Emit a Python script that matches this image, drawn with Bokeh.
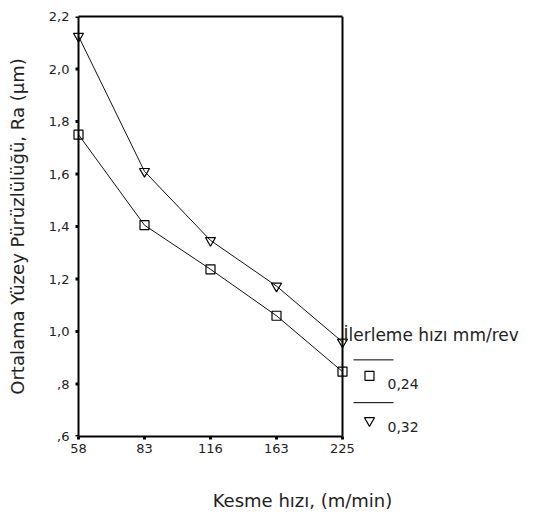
from bokeh.plotting import figure
from bokeh.models import Range1d, FixedTicker, LinearAxis, ColumnDataSource
from bokeh.core.properties import value
from bokeh.embed import file_html
from bokeh.resources import INLINE

# ---- data ----
speeds = ["58", "83", "116", "163", "225"]
ra_024 = [1.75, 1.405, 1.237, 1.06, 0.847]
ra_032 = [2.125, 1.61, 1.347, 1.173, 0.96]
y_ticks = [0.6, 0.8, 1.0, 1.2, 1.4, 1.6, 1.8, 2.0, 2.2]
y_tick_labels = [",6", ",8", "1,0", "1,2", "1,4", "1,6", "1,8", "2,0", "2,2"]
series_names = ["0,24", "0,32"]
legend_title = "İlerleme hızı mm/rev"
x_title = "Kesme hızı, (m/min)"
y_title = "Ortalama Yüzey Pürüzlülüğü, Ra (µm)"

FONT = "DejaVu Sans"
TXT = "#222222"

# ---- layout (pixels) ----
W, H = 534, 513
FRAME_L, FRAME_R, BOX_L, BOX_R = 70, 534, 78, 342
BOX_T, BOX_B = 16, 438

n = len(speeds)
x_idx = list(range(n))
ppu = (BOX_R - BOX_L) / (n - 1)
x_start = -(BOX_L - FRAME_L) / ppu
x_end = (n - 1) + (FRAME_R - BOX_R) / ppu

p = figure(width=W, height=H, output_backend="svg", toolbar_location=None,
           x_range=Range1d(x_start, x_end), y_range=Range1d(y_ticks[0], y_ticks[-1]),
           x_axis_location=None, y_axis_location=None,
           min_border_left=FRAME_L, min_border_right=W - FRAME_R,
           min_border_top=BOX_T, min_border_bottom=H - BOX_B)
p.background_fill_color = "white"
p.border_fill_color = "white"
p.outline_line_color = None
p.xgrid.visible = False
p.ygrid.visible = False
p.extra_x_ranges = {"px": Range1d(FRAME_L, FRAME_R)}
p.extra_y_ranges = {"px": Range1d(BOX_B, BOX_T)}

def style(ax):
    ax.axis_line_width = 2
    ax.axis_line_color = "black"
    ax.major_tick_in = 0
    ax.major_tick_out = 3
    ax.major_tick_line_width = 3
    ax.minor_tick_line_color = None
    ax.major_label_text_font = FONT
    ax.major_label_text_font_size = "13px"
    ax.major_label_text_color = TXT
    ax.axis_label_text_font = FONT
    ax.axis_label_text_font_size = "18px"
    ax.axis_label_text_font_style = "normal"
    ax.axis_label_text_color = TXT

xax = LinearAxis(ticker=FixedTicker(ticks=x_idx), bounds=(0, n - 1), axis_label=x_title)
xax.major_label_overrides = {i: s for i, s in zip(x_idx, speeds)}
style(xax)
xax.major_label_standoff = 4
xax.axis_label_standoff = 34
p.add_layout(xax, "below")

# y axis labels (at the frame edge)
ylab = LinearAxis(ticker=FixedTicker(ticks=y_ticks), axis_label=y_title)
ylab.major_label_overrides = {t: s for t, s in zip(y_ticks, y_tick_labels)}
style(ylab)
ylab.axis_line_color = None
ylab.major_tick_line_color = None
ylab.major_tick_out = 0
ylab.major_label_standoff = 1
ylab.axis_label_standoff = 18
p.add_layout(ylab, "left")

# top edge of the box
top = LinearAxis(ticker=FixedTicker(ticks=[]), bounds=(0, n - 1))
style(top)
top.major_tick_line_color = None
p.add_layout(top, "above")

# left and right edges of the box
p.segment(x0=[0, n - 1], y0=[y_ticks[0]] * 2, x1=[0, n - 1], y1=[y_ticks[-1]] * 2,
          line_color="black", line_width=2)
# y tick marks just left of the box edge
p.segment(x0=[BOX_L - 3] * len(y_ticks), y0=y_ticks, x1=[BOX_L] * len(y_ticks), y1=y_ticks,
          line_color="black", line_width=3, x_range_name="px")

src = ColumnDataSource(dict(x=x_idx, a=ra_024, b=ra_032))
p.line("x", "a", source=src, line_color="#111111", line_width=1)
p.line("x", "b", source=src, line_color="#111111", line_width=1)
p.scatter("x", "a", source=src, marker="square", size=9, fill_color=None,
          line_color="black", line_width=1.2)
p.scatter("x", "b", source=src, marker="inverted_triangle", size=10, fill_color=None,
          line_color="black", line_width=1.2)

# ---- legend, placed in page pixels through extra ranges ----
kw = dict(x_range_name="px", y_range_name="px")
p.text(x=[343], y=[336], text=[legend_title], text_font=value(FONT),
       text_font_size="17px", text_color=TXT, text_baseline="middle", **kw)
p.segment(x0=[353, 353], y0=[361, 404], x1=[393, 393], y1=[361, 404],
          line_color="black", line_width=1, **kw)
p.scatter(x=[369], y=[377], marker="square", size=9, fill_color=None,
          line_color="black", line_width=1.2, **kw)
p.scatter(x=[369], y=[422], marker="inverted_triangle", size=10, fill_color=None,
          line_color="black", line_width=1.2, **kw)
p.text(x=[387, 387], y=[385, 428], text=series_names, text_font=value(FONT),
       text_font_size="14px", text_color=TXT, text_baseline="middle", **kw)

open("out.html", "w").write(file_html(p, INLINE))
